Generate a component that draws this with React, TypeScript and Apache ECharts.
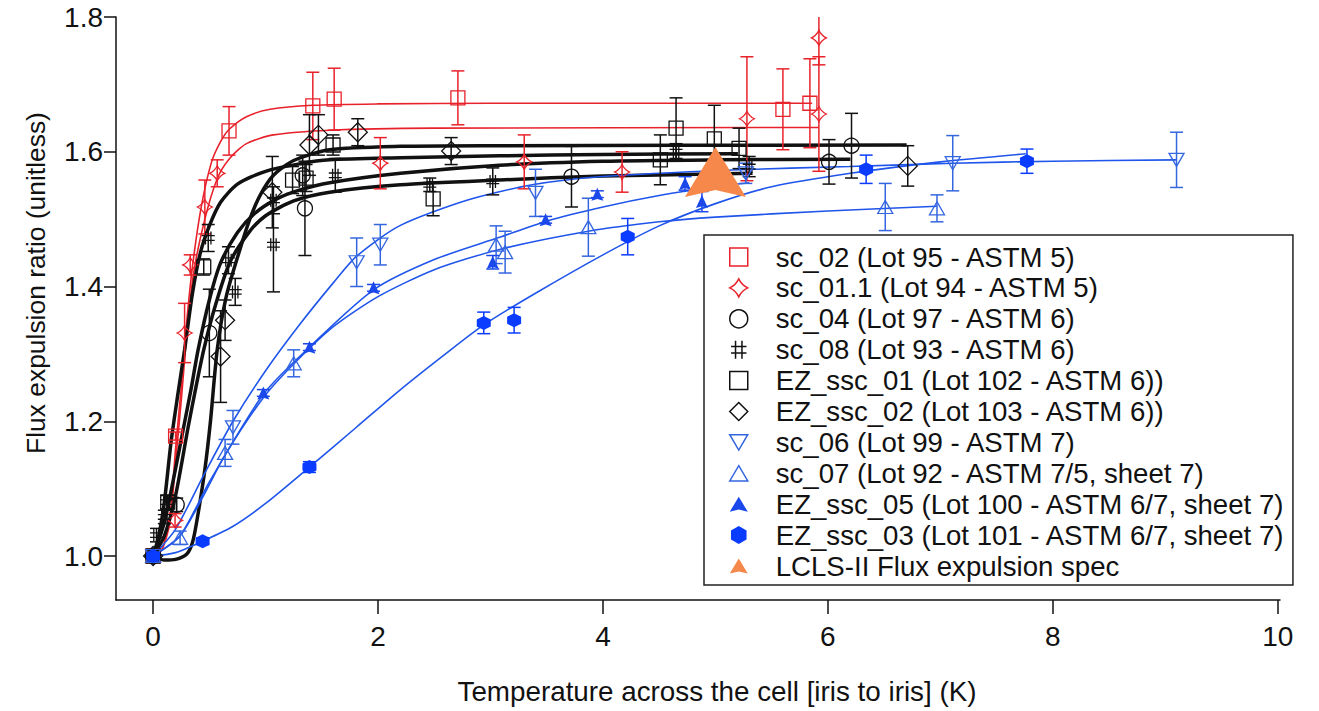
import { useEffect, useRef } from 'react';
import * as echarts from 'echarts';

// ---------- tick labels ----------
const xTicks = [0, 2, 4, 6, 8, 10];
const yTicks = [1.0, 1.2, 1.4, 1.6, 1.8];

// ---------- measured points: [x, y, error] ----------
const sc02Pts = [[0, 1.0, 0.003], [0.2, 1.178, 0.006], [0.675, 1.631, 0.036], [1.42, 1.668, 0.05], [1.61, 1.678, 0.046], [2.71, 1.68, 0.04], [5.6, 1.663, 0.06], [5.84, 1.672, 0.066]];
const sc011Pts = [[0, 1.0, 0.003], [0.195, 1.053, 0.01], [0.28, 1.331, 0.044], [0.33, 1.432, 0.015], [0.46, 1.518, 0.04], [0.57, 1.568, 0.02], [2.02, 1.583, 0.038], [3.3, 1.585, 0.04], [4.17, 1.57, 0.03], [5.28, 1.649, 0.092], [5.92, 1.769, 0.04], [5.92, 1.656, 0.085]];
const sc04Pts = [[0, 1.0, 0.003], [0.21, 1.076, 0.01], [0.5, 1.331, 0.065], [1.33, 1.565, 0.03], [1.35, 1.516, 0.07], [3.72, 1.563, 0.045], [6.01, 1.585, 0.033], [6.21, 1.609, 0.048]];
const sc08Pts = [[0, 1.0, 0.005], [0.03, 1.031, 0.01], [0.1, 1.058, 0.01], [0.12, 1.08, 0.01], [0.49, 1.472, 0.02], [0.67, 1.439, 0.02], [0.73, 1.392, 0.02], [1.07, 1.462, 0.07], [1.07, 1.528, 0.02], [1.62, 1.565, 0.025], [2.46, 1.551, 0.01], [3.02, 1.556, 0.02], [4.65, 1.6, 0.012], [5.3, 1.578, 0.015]];
const ez01Pts = [[0, 1.0, 0.003], [0.13, 1.08, 0.01], [0.45, 1.429, 0.012], [1.24, 1.558, 0.02], [1.36, 1.561, 0.02], [1.6, 1.61, 0.015], [2.49, 1.53, 0.025], [4.51, 1.588, 0.037], [4.65, 1.635, 0.045], [4.99, 1.619, 0.05], [5.21, 1.605, 0.03]];
const ez02Pts = [[0, 1.0, 0.003], [0.6, 1.296, 0.068], [0.64, 1.35, 0.03], [1.06, 1.54, 0.053], [1.39, 1.61, 0.045], [1.47, 1.625, 0.03], [1.82, 1.629, 0.02], [2.65, 1.601, 0.02], [6.71, 1.579, 0.03]];
const sc06Pts = [[0, 1.0, 0.003], [0.71, 1.191, 0.025], [1.81, 1.436, 0.036], [2.02, 1.462, 0.03], [3.4, 1.539, 0.035], [5.27, 1.568, 0.015], [7.11, 1.583, 0.041], [9.1, 1.588, 0.041]];
const sc07Pts = [[0, 1.0, 0.003], [0.24, 1.027, 0.01], [0.64, 1.153, 0.02], [1.25, 1.286, 0.02], [3.05, 1.462, 0.028], [3.13, 1.451, 0.031], [3.87, 1.488, 0.043], [6.51, 1.518, 0.035], [6.97, 1.516, 0.02]];
const ez05Pts = [[0, 1.0, 0.003], [0.98, 1.242, 0.005], [1.39, 1.31, 0.005], [1.96, 1.398, 0.005], [3.02, 1.436, 0.01], [3.49, 1.499, 0.005], [3.95, 1.537, 0.005], [4.73, 1.553, 0.01], [4.88, 1.526, 0.015]];
const ez03Pts = [[0, 1.0, 0.003], [0.44, 1.022, 0.005], [1.39, 1.132, 0.008], [2.94, 1.346, 0.016], [3.21, 1.35, 0.019], [4.22, 1.474, 0.027], [6.34, 1.574, 0.021], [7.77, 1.586, 0.018]];
const specPts = [[5.0, 1.57, 0]];

// ---------- fitted curves: [x, y] ----------
const sc02Fit = [[0, 1.0], [0.08, 1.01], [0.15, 1.06], [0.2, 1.16], [0.25, 1.25], [0.3, 1.35], [0.35, 1.43], [0.43, 1.52], [0.52, 1.585], [0.6, 1.615], [0.675, 1.633], [0.83, 1.652], [1.04, 1.663], [1.42, 1.669], [2, 1.671], [3, 1.672], [5.86, 1.672]];
const sc011Fit = [[0, 1.0], [0.08, 1.01], [0.15, 1.05], [0.2, 1.14], [0.25, 1.23], [0.3, 1.33], [0.36, 1.42], [0.46, 1.5], [0.57, 1.56], [0.68, 1.59], [0.83, 1.612], [1.07, 1.625], [1.57, 1.632], [2.5, 1.635], [5.92, 1.636]];
const sc04Fit = [[0, 1.0], [0.1, 1.05], [0.2, 1.13], [0.27, 1.19], [0.34, 1.25], [0.4, 1.306], [0.5, 1.38], [0.6, 1.435], [0.75, 1.48], [0.9, 1.508], [1.1, 1.53], [1.3, 1.543], [1.57, 1.554], [2.2, 1.568], [3.08, 1.58], [4, 1.586], [5, 1.588], [6.2, 1.589]];
const sc08Fit = [[0, 1.0], [0.1, 1.03], [0.2, 1.09], [0.31, 1.19], [0.38, 1.25], [0.45, 1.306], [0.55, 1.37], [0.68, 1.435], [0.85, 1.48], [1.0, 1.505], [1.25, 1.527], [1.57, 1.54], [2.2, 1.551], [3.08, 1.558], [4, 1.564], [5.33, 1.568]];
const ez01Fit = [[0, 1.0], [0.05, 1.03], [0.1, 1.08], [0.16, 1.17], [0.22, 1.24], [0.28, 1.306], [0.35, 1.39], [0.42, 1.45], [0.5, 1.49], [0.6, 1.525], [0.75, 1.552], [1.0, 1.571], [1.3, 1.582], [1.57, 1.588], [2.2, 1.591], [3.08, 1.594], [4, 1.596], [5.2, 1.597]];
const ez02Fit = [[0, 1.0], [0.1, 0.994], [0.2, 0.995], [0.3, 1.003], [0.35, 1.02], [0.39, 1.053], [0.46, 1.128], [0.51, 1.2], [0.57, 1.306], [0.65, 1.385], [0.77, 1.454], [0.86, 1.5], [0.95, 1.535], [1.07, 1.565], [1.25, 1.587], [1.57, 1.603], [2.2, 1.608], [3, 1.609], [6.7, 1.61]];
const sc06Fit = [[0, 1.0], [0.2, 1.04], [0.45, 1.12], [0.71, 1.2], [1.0, 1.275], [1.31, 1.345], [1.6, 1.405], [1.81, 1.445], [2.19, 1.49], [2.79, 1.528], [3.37, 1.551], [3.97, 1.563], [5.15, 1.573], [6.19, 1.578], [7.11, 1.583], [8, 1.586], [9.1, 1.588]];
const sc07Fit = [[0, 1.0], [0.24, 1.03], [0.45, 1.09], [0.64, 1.15], [0.98, 1.235], [1.25, 1.285], [1.6, 1.34], [2.0, 1.385], [2.5, 1.425], [3.08, 1.455], [3.87, 1.482], [4.5, 1.496], [5.0, 1.503], [6.0, 1.512], [6.97, 1.519]];
const ez05Fit = [[0, 1.0], [0.24, 1.03], [0.5, 1.11], [0.98, 1.24], [1.39, 1.31], [1.96, 1.395], [2.5, 1.44], [3.08, 1.473], [3.5, 1.497], [4, 1.518], [4.5, 1.535], [5.0, 1.548], [5.3, 1.554]];
const ez03Fit = [[0, 1.0], [0.2, 1.005], [0.44, 1.022], [0.7, 1.043], [1.0, 1.078], [1.39, 1.132], [1.8, 1.19], [2.2, 1.247], [2.6, 1.3], [2.94, 1.343], [3.4, 1.39], [4.0, 1.447], [4.5, 1.49], [5.0, 1.523], [5.5, 1.548], [6.2, 1.568], [7.0, 1.585], [7.76, 1.597]];

// ---------- series names ----------
const names = [
  'sc_02 (Lot 95 - ASTM 5)',
  'sc_01.1 (Lot 94 - ASTM 5)',
  'sc_04 (Lot 97 - ASTM 6)',
  'sc_08 (Lot 93 - ASTM 6)',
  'EZ_ssc_01 (Lot 102 - ASTM 6))',
  'EZ_ssc_02 (Lot 103 - ASTM 6))',
  'sc_06 (Lot 99 - ASTM 7)',
  'sc_07 (Lot 92 - ASTM 7/5, sheet 7)',
  'EZ_ssc_05 (Lot 100 - ASTM 6/7, sheet 7)',
  'EZ_ssc_03 (Lot 101 - ASTM 6/7, sheet 7)',
  'LCLS-II Flux expulsion spec',
];

const RED = '#e8222b';
const BLACK = '#111111';
const BLUE = '#1f55ea';
const BLUE_OPEN = '#3466e0';
const BLUE_FILL = '#0a3cff';
const ORANGE = '#f5884a';

const STAR = 'path://M0,-10Q3.2,-3.2,10,0Q3.2,3.2,0,10Q-3.2,3.2,-10,0Q-3.2,-3.2,0,-10Z';
const HASH = 'path://M3.5,0L3.5,14M8.5,0L8.5,14M0,4.5L12,4.5M0,9.5L12,9.5';
const HEX = 'path://M0,-10L8.66,-5L8.66,5L0,10L-8.66,5L-8.66,-5Z';
const TRI_UP = 'path://M0,0L10,17L-10,17Z';
const TRI_DOWN = 'path://M-10,0L10,0L0,17Z';
const ARROW = 'path://M0,0L6,10L0,8.6L-6,10Z';

type Def = {
  name: string; pts: number[][]; fit: number[][] | null; color: string; lineColor: string;
  lineWidth: number; symbol: string; size: number | number[]; filled: boolean;
};

const defs: Def[] = [
  { name: names[0], pts: sc02Pts, fit: sc02Fit, color: RED, lineColor: RED, lineWidth: 1.6, symbol: 'rect', size: 14, filled: false },
  { name: names[1], pts: sc011Pts, fit: sc011Fit, color: RED, lineColor: RED, lineWidth: 1.6, symbol: STAR, size: 15, filled: false },
  { name: names[2], pts: sc04Pts, fit: sc04Fit, color: BLACK, lineColor: BLACK, lineWidth: 3.5, symbol: 'circle', size: 15, filled: false },
  { name: names[3], pts: sc08Pts, fit: sc08Fit, color: BLACK, lineColor: BLACK, lineWidth: 3.5, symbol: HASH, size: 13, filled: false },
  { name: names[4], pts: ez01Pts, fit: ez01Fit, color: BLACK, lineColor: BLACK, lineWidth: 3.5, symbol: 'rect', size: 14, filled: false },
  { name: names[5], pts: ez02Pts, fit: ez02Fit, color: BLACK, lineColor: BLACK, lineWidth: 3.5, symbol: 'diamond', size: 19, filled: false },
  { name: names[6], pts: sc06Pts, fit: sc06Fit, color: BLUE_OPEN, lineColor: BLUE, lineWidth: 1.6, symbol: TRI_DOWN, size: [15, 13], filled: false },
  { name: names[7], pts: sc07Pts, fit: sc07Fit, color: BLUE_OPEN, lineColor: BLUE, lineWidth: 1.6, symbol: TRI_UP, size: [15, 13], filled: false },
  { name: names[8], pts: ez05Pts, fit: ez05Fit, color: '#1a48ea', lineColor: BLUE, lineWidth: 1.6, symbol: ARROW, size: [12, 13], filled: true },
  { name: names[9], pts: ez03Pts, fit: ez03Fit, color: BLUE_FILL, lineColor: BLUE, lineWidth: 1.6, symbol: HEX, size: 14, filled: true },
  { name: names[10], pts: specPts, fit: null, color: ORANGE, lineColor: ORANGE, lineWidth: 0, symbol: ARROW, size: [61, 50], filled: true },
];

const FONT = 'Liberation Sans';

function buildOption() {
  const series: any[] = [];
  defs.forEach((d) => {
    if (d.fit) {
      series.push({
        name: d.name + ' fit', type: 'line', data: d.fit, showSymbol: false, symbol: 'none',
        smooth: 0.25, z: 2, silent: true,
        lineStyle: { color: d.lineColor, width: d.lineWidth },
      });
    }
  });
  defs.forEach((d) => {
    if (d.pts.some((p) => p[2] > 0)) {
      series.push({
        name: d.name + ' err', type: 'custom', data: d.pts, z: 3, silent: true, clip: true,
        encode: { x: 0, y: 1 },
        renderItem: (params: any, api: any) => {
          const x = api.value(0);
          const y = api.value(1);
          const e = api.value(2);
          const top = api.coord([x, y + e]);
          const bot = api.coord([x, y - e]);
          const hw = 6.5;
          const style = { stroke: d.color, lineWidth: 1.5 };
          return {
            type: 'group',
            children: [
              { type: 'line', shape: { x1: top[0], y1: top[1], x2: bot[0], y2: bot[1] }, style },
              { type: 'line', shape: { x1: top[0] - hw, y1: top[1], x2: top[0] + hw, y2: top[1] }, style },
              { type: 'line', shape: { x1: bot[0] - hw, y1: bot[1], x2: bot[0] + hw, y2: bot[1] }, style },
            ],
          };
        },
      });
    }
  });
  defs.forEach((d) => {
    series.push({
      name: d.name, type: 'scatter', data: d.pts.map((p) => [p[0], p[1]]), z: 4,
      symbol: d.symbol, symbolSize: d.size, symbolKeepAspect: false,
      itemStyle: d.filled
        ? { color: d.color, borderWidth: 0, opacity: 1 }
        : { color: 'rgba(255,255,255,0)', borderColor: d.color, borderWidth: 1.3, opacity: 1 },
    });
  });

  return {
    animation: false,
    backgroundColor: '#ffffff',
    grid: { left: 116, top: 17, width: 1164, height: 583, containLabel: false },
    xAxis: {
      type: 'value', min: -0.33, max: 10.02,
      axisLine: { show: true, onZero: false, lineStyle: { color: BLACK, width: 1.5 } },
      axisTick: { show: true, customValues: xTicks, length: 14, lineStyle: { color: BLACK, width: 1.5 } },
      axisLabel: { customValues: xTicks, fontFamily: FONT, fontSize: 28, color: BLACK, margin: 22, formatter: (v: number) => String(v) },
      splitLine: { show: false },
    },
    yAxis: {
      type: 'value', min: 0.9347, max: 1.8,
      axisLine: { show: true, onZero: false, lineStyle: { color: BLACK, width: 1.5 } },
      axisTick: { show: true, customValues: yTicks, length: 12, lineStyle: { color: BLACK, width: 1.5 } },
      axisLabel: { customValues: yTicks, fontFamily: FONT, fontSize: 28, color: BLACK, margin: 13, formatter: (v: number) => v.toFixed(1) },
      splitLine: { show: false },
    },
    legend: {
      data: defs.map((d) => ({
        name: d.name,
        icon: d.symbol,
        itemStyle: d.filled
          ? { color: d.color, borderWidth: 0 }
          : { color: 'rgba(255,255,255,0)', borderColor: d.color, borderWidth: 1.5 },
      })),
      orient: 'vertical', left: 704, top: 235,
      itemWidth: 18, itemHeight: 18, itemGap: 2.9,
      padding: [8, 8, 5, 25],
      borderColor: '#222', borderWidth: 1.5, backgroundColor: '#ffffff',
      selectedMode: false, z: 10,
      textStyle: { fontFamily: FONT, fontSize: 27.6, color: BLACK, lineHeight: 27.4, padding: [0, 0, 0, 23] },
    },
    graphic: [
      {
        type: 'text', x: 717, y: 691, z: 20,
        style: { text: 'Temperature across the cell [iris to iris] (K)', fontFamily: FONT, fontSize: 27.8, fill: BLACK, align: 'center', verticalAlign: 'middle' },
      },
      {
        type: 'text', x: 36, y: 283, rotation: Math.PI / 2, z: 20,
        style: { text: 'Flux expulsion ratio (unitless)', fontFamily: FONT, fontSize: 26.4, fill: BLACK, align: 'center', verticalAlign: 'middle' },
      },
    ],
    series,
  };
}

export default function App() {
  const ref = useRef<HTMLDivElement>(null);
  useEffect(() => {
    if (!ref.current) return;
    const chart = echarts.init(ref.current, undefined, { renderer: 'svg' });
    chart.setOption(buildOption() as any);
    return () => chart.dispose();
  }, []);
  return <div ref={ref} style={{ position: 'fixed', left: 0, top: 0, width: 1319, height: 711, background: '#fff' }} />;
}
